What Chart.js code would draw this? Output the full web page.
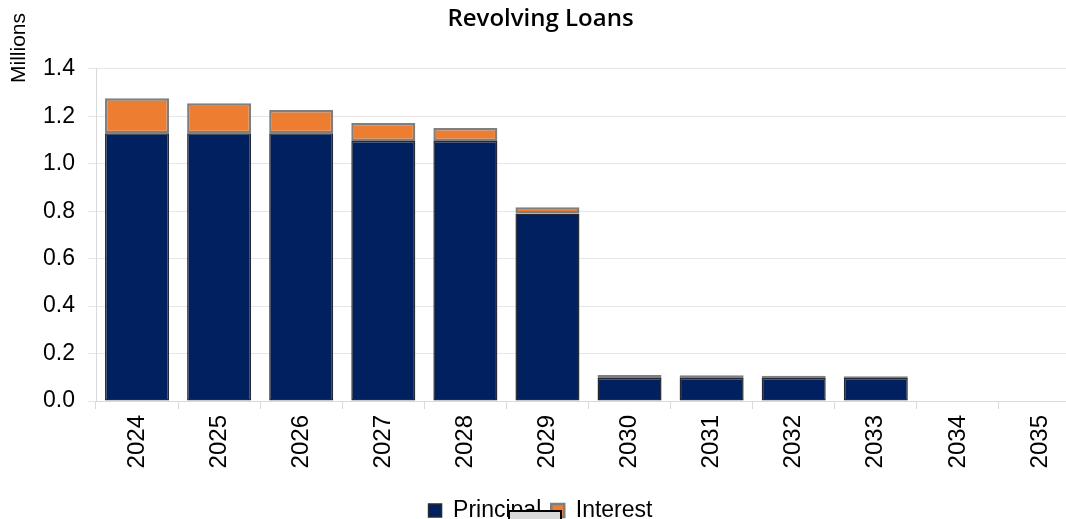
<!DOCTYPE html>
<html>
<head>
<meta charset="utf-8">
<script src="https://cdn.jsdelivr.net/npm/chart.js@4"></script>
<style>
  html, body { margin: 0; padding: 0; background: #fff; overflow: hidden; }
  #caja { position: relative; width: 1082px; height: 532px; }
  #tapa { position: absolute; left: 508px; top: 510px; width: 50px; height: 14px;
          background: #d9d9d9; border: 2px solid #000; }
</style>
</head>
<body>
<div id="caja">
  <canvas id="prestamos" width="1082" height="532"></canvas>
  <div id="tapa"></div>
</div>
<script>
const anios = ['2024', '2025', '2026', '2027', '2028', '2029', '2030', '2031', '2032', '2033', '2034', '2035'];
const principal = [1.128, 1.128, 1.128, 1.096, 1.096, 0.79, 0.097, 0.097, 0.097, 0.097, 0, 0];
const interes = [0.148, 0.127, 0.098, 0.076, 0.054, 0.026, 0.013, 0.011, 0.009, 0.007, 0, 0];
const marcasY = [0, 0.2, 0.4, 0.6, 0.8, 1.0, 1.2, 1.4];

const fuente = '"Liberation Sans", Arial, sans-serif';

// texto "Millions" arriba a la izquierda
const tituloY = {
  id: 'tituloY',
  afterDraw(chart) {
    const ctx = chart.ctx;
    ctx.save();
    ctx.translate(19, 48);
    ctx.rotate(-Math.PI / 2);
    ctx.font = '21px ' + fuente;
    ctx.fillStyle = '#000';
    ctx.textAlign = 'center';
    ctx.textBaseline = 'middle';
    ctx.fillText('Millions', 0, 0);
    ctx.restore();
  }
};

const grafico = document.getElementById('prestamos');
new Chart(grafico, {
  type: 'bar',
  data: {
    labels: anios,
    datasets: [
      {
        label: 'Principal',
        data: principal,
        backgroundColor: '#002060',
        borderColor: '#262b33',
        borderWidth: 1.5,
        borderSkipped: false
      },
      {
        label: 'Interest',
        data: interes,
        backgroundColor: '#ED7D31',
        borderColor: '#7f7f7f',
        borderWidth: 2.5,
        borderSkipped: false
      }
    ]
  },
  options: {
    responsive: false,
    animation: false,
    layout: { padding: { left: 0, right: 1, top: 0, bottom: 0 } },
    datasets: { bar: { barPercentage: 0.78, categoryPercentage: 1 } },
    plugins: {
      title: {
        display: true,
        text: 'Revolving Loans',
        color: '#000',
        font: { family: '"Open Sans"', size: 24, weight: '600' },
        padding: { top: 5, bottom: 35 }
      },
      legend: {
        position: 'bottom',
        labels: {
          color: '#000',
          boxWidth: 13,
          boxHeight: 13,
          padding: 10,
          font: { family: fuente, size: 23 }
        }
      },
      tooltip: { enabled: false }
    },
    scales: {
      x: {
        stacked: true,
        afterFit: (eje) => { eje.height = 88; },
        grid: { offset: true, drawOnChartArea: false, color: '#d9d9d9', tickLength: 8 },
        border: { color: '#d9d9d9' },
        ticks: {
          color: '#000',
          minRotation: 90,
          maxRotation: 90,
          padding: 6,
          font: { family: fuente, size: 24 }
        }
      },
      y: {
        stacked: true,
        min: 0,
        max: 1.4,
        afterFit: (eje) => { eje.width = 96; },
        afterBuildTicks: (eje) => { eje.ticks = marcasY.map(v => ({ value: v })); },
        grid: { color: '#e6e6e6', tickLength: 8 },
        border: { color: '#d9d9d9' },
        ticks: {
          color: '#000',
          padding: 13,
          font: { family: fuente, size: 23 },
          callback: (v) => Number(v).toFixed(1)
        }
      }
    }
  },
  plugins: [tituloY]
});
</script>
</body>
</html>
